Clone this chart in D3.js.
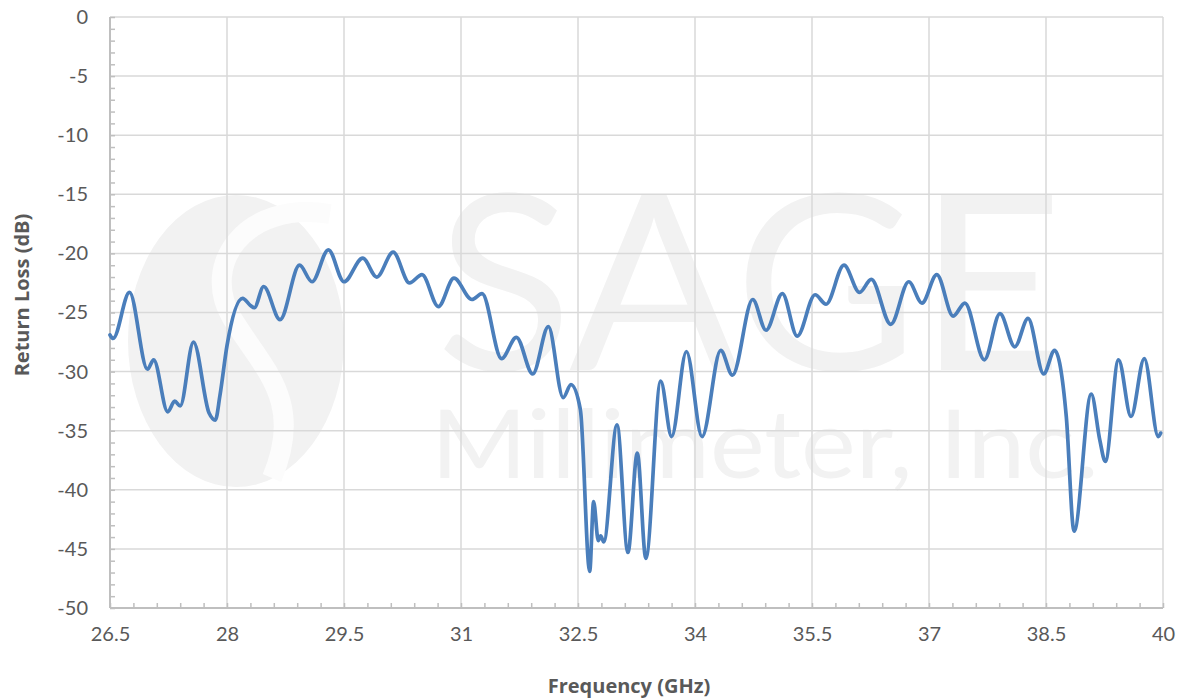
<!DOCTYPE html>
<html>
<head>
<meta charset="utf-8">
<script src="https://cdn.jsdelivr.net/npm/d3@7"></script>
<style>
  body { margin: 0; background: #fff; }
  svg text { font-family: Lato, "Open Sans", sans-serif; }
</style>
</head>
<body>
<div id="chart"></div>
<script>
// Frequency points (GHz) and return loss (dB)
const freq = [
  26.50, 26.54, 26.75, 26.98, 27.06, 27.24, 27.33, 27.40, 27.57, 27.77,
  27.85, 27.91, 28.00, 28.20, 28.30, 28.35, 28.47, 28.68, 28.93, 29.09,
  29.30, 29.50, 29.74, 29.92, 30.13, 30.34, 30.50, 30.71, 30.91, 31.14,
  31.27, 31.52, 31.71, 31.92, 32.12, 32.31, 32.41, 32.53, 32.65, 32.70,
  32.76, 32.79, 32.83, 33.00, 33.14, 33.26, 33.37, 33.56, 33.70, 33.89,
  34.09, 34.33, 34.48, 34.74, 34.91, 35.12, 35.31, 35.54, 35.68, 35.91,
  36.11, 36.26, 36.51, 36.74, 36.91, 37.10, 37.31, 37.46, 37.71, 37.91,
  38.10, 38.27, 38.47, 38.61, 38.76, 38.86, 39.08, 39.19, 39.26, 39.43,
  39.59, 39.76, 39.94, 39.97
];
const returnLoss = [
  -26.9, -27.2, -23.3, -29.8, -29.0, -33.4, -32.5, -32.9, -27.5, -33.5,
  -34.1, -32.0, -27.8, -23.8, -24.4, -24.6, -22.8, -25.6, -21.0, -22.4,
  -19.7, -22.4, -20.4, -22.0, -19.9, -22.5, -21.8, -24.5, -22.1, -23.9,
  -23.4, -28.9, -27.1, -30.2, -26.2, -32.2, -31.1, -33.2, -46.9, -41.0,
  -44.3, -43.9, -44.4, -34.5, -45.3, -36.9, -45.8, -30.8, -35.5, -28.3,
  -35.5, -28.2, -30.3, -23.9, -26.5, -23.4, -27.0, -23.5, -24.3, -21.0,
  -23.3, -22.2, -26.0, -22.4, -24.2, -21.8, -25.3, -24.2, -29.0, -25.1,
  -27.9, -25.5, -30.2, -28.2, -33.8, -43.5, -31.9, -35.8, -37.6, -29.0,
  -33.8, -28.9, -35.5, -35.2
];

const xTicks = [26.5, 28, 29.5, 31, 32.5, 34, 35.5, 37, 38.5, 40];
const yTicks = [0, -5, -10, -15, -20, -25, -30, -35, -40, -45, -50];

const width = 1181;
const height = 700;
const margin = { top: 17, right: 18, bottom: 92, left: 110 };
const innerW = width - margin.left - margin.right;
const innerH = height - margin.top - margin.bottom;

const svg = d3.select("#chart")
  .append("svg")
  .attr("width", width)
  .attr("height", height);

// Watermark first so it sits behind grid and line
const wm = svg.append("g").attr("fill", "#f2f2f2");
wm.append("ellipse")
  .attr("cx", 236).attr("cy", 341)
  .attr("rx", 108).attr("ry", 146);
wm.append("path")
  .attr("d", "M 330,214 C 245,200 200,265 232,318 C 262,368 305,400 272,478")
  .attr("fill", "none")
  .attr("stroke", "#fcfcfc")
  .attr("stroke-width", 20);
wm.append("text")
  .attr("x", 436).attr("y", 370)
  .attr("font-size", 244)
  .attr("textLength", 627)
  .attr("lengthAdjust", "spacingAndGlyphs")
  .text("SAGE");
wm.append("text")
  .attr("x", 431).attr("y", 478)
  .attr("font-size", 95)
  .attr("textLength", 668)
  .attr("lengthAdjust", "spacingAndGlyphs")
  .text("Millimeter, Inc.");

const g = svg.append("g")
  .attr("transform", `translate(${margin.left},${margin.top})`);

const x = d3.scaleLinear().domain([26.5, 40]).range([0, innerW]);
const y = d3.scaleLinear().domain([-50, 0]).range([innerH, 0]);

// Gridlines
g.append("g")
  .selectAll("line")
  .data(yTicks)
  .join("line")
  .attr("x1", 0).attr("x2", innerW)
  .attr("y1", d => y(d)).attr("y2", d => y(d))
  .attr("stroke", "#d9d9d9")
  .attr("stroke-width", 1.5);

g.append("g")
  .selectAll("line")
  .data(xTicks)
  .join("line")
  .attr("x1", d => x(d)).attr("x2", d => x(d))
  .attr("y1", 0).attr("y2", innerH)
  .attr("stroke", "#d9d9d9")
  .attr("stroke-width", 1.5);

// Minor ticks (inside the plot)
const yMinor = d3.range(-50, 0.01, 1);
const xMinor = d3.range(0, 46).map(i => 26.5 + i * 0.3);

g.append("g")
  .call(d3.axisRight(y).tickValues(yMinor).tickSize(5).tickFormat(""))
  .call(a => a.select(".domain").remove())
  .selectAll("line").attr("stroke", "#bfbfbf").attr("stroke-width", 1.5);

g.append("g")
  .attr("transform", `translate(0,${innerH})`)
  .call(d3.axisTop(x).tickValues(xMinor).tickSize(5).tickFormat(""))
  .call(a => a.select(".domain").remove())
  .selectAll("line").attr("stroke", "#bfbfbf").attr("stroke-width", 1.5);

// Axis lines
g.append("line")
  .attr("x1", 0).attr("x2", 0).attr("y1", 0).attr("y2", innerH)
  .attr("stroke", "#bfbfbf").attr("stroke-width", 2);
g.append("line")
  .attr("x1", 0).attr("x2", innerW).attr("y1", innerH).attr("y2", innerH)
  .attr("stroke", "#bfbfbf").attr("stroke-width", 2);

// Tick labels (plain hyphen minus like the original)
const yAxis = g.append("g")
  .call(d3.axisLeft(y).tickValues(yTicks).tickSize(0).tickPadding(22).tickFormat(d => String(d)));
yAxis.select(".domain").remove();
yAxis.selectAll("text")
  .attr("fill", "#595959")
  .style("font-size", "20px");

const xAxis = g.append("g")
  .attr("transform", `translate(0,${innerH})`)
  .call(d3.axisBottom(x).tickValues(xTicks).tickSize(0).tickPadding(19).tickFormat(d => String(d)));
xAxis.select(".domain").remove();
xAxis.selectAll("text")
  .attr("fill", "#595959")
  .style("font-size", "20px");

// Data line
const line = d3.line()
  .x((d, i) => x(freq[i]))
  .y(d => y(d))
  .curve(d3.curveMonotoneX);

g.append("path")
  .datum(returnLoss)
  .attr("d", line)
  .attr("fill", "none")
  .attr("stroke", "#4a7ebb")
  .attr("stroke-width", 3.7)
  .attr("stroke-linejoin", "round")
  .attr("stroke-linecap", "round");

// Axis titles
svg.append("text")
  .attr("x", 629)
  .attr("y", 693)
  .attr("text-anchor", "middle")
  .attr("fill", "#595959")
  .style("font-family", "'Open Sans', sans-serif")
  .style("font-size", "20px")
  .style("font-weight", "bold")
  .text("Frequency (GHz)");

svg.append("text")
  .attr("transform", `translate(29,295) rotate(-90)`)
  .attr("text-anchor", "middle")
  .attr("fill", "#595959")
  .style("font-family", "'Open Sans', sans-serif")
  .style("font-size", "20px")
  .style("font-weight", "bold")
  .text("Return Loss (dB)");
</script>
</body>
</html>
